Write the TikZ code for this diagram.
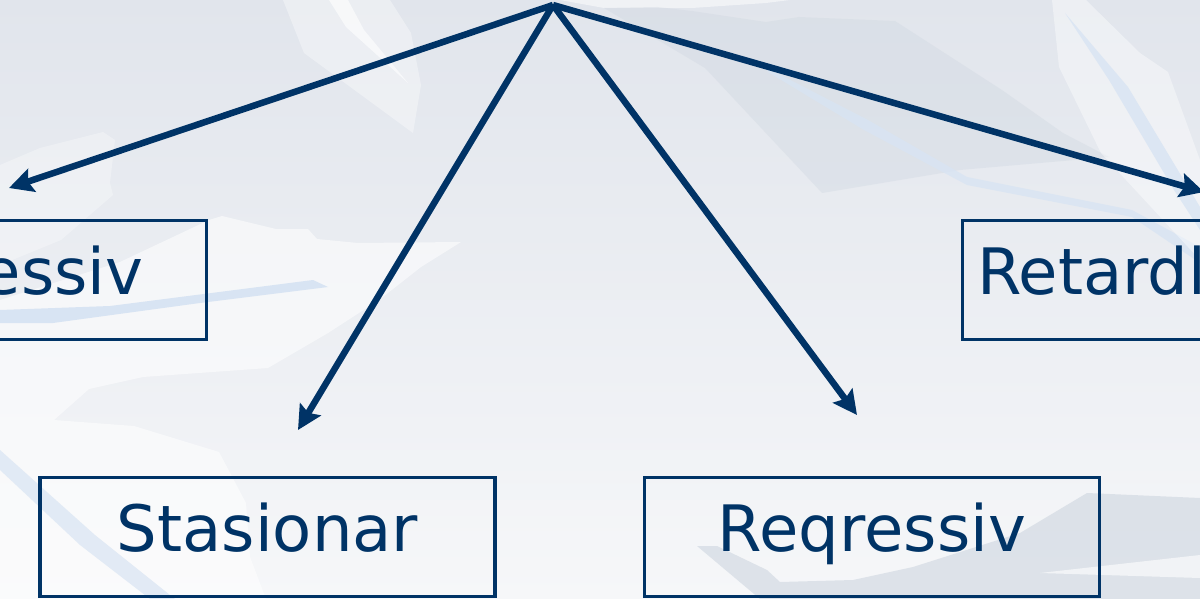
\documentclass[tikz,border=0pt]{standalone}
\usepackage{fontspec}
\setmainfont{DejaVu Sans}
\usetikzlibrary{arrows.meta}

\definecolor{navy}{RGB}{0,51,102}
\definecolor{bgtop}{RGB}{225,229,236}
\definecolor{bgmid}{RGB}{233,236,240}
\definecolor{bgbot}{RGB}{246,247,249}
\definecolor{bgdark}{RGB}{205,213,223}
\definecolor{bgblue}{RGB}{216,228,243}

\begin{document}
\begin{tikzpicture}
	[x=1pt,y=-1pt,
	kind/.style={draw=navy, line width=3.5pt, text=navy, font=\fontsize{64pt}{70pt}\selectfont, minimum width=455pt, minimum height=119pt, text height=48pt, text depth=20pt, inner sep=0pt},
	link/.style={-{Stealth[length=24pt,width=24pt,inset=4pt]}, line width=6.5pt, draw=navy}]
	%frame
	\useasboundingbox (0,0) rectangle (1200,599);
	\clip (0,0) rectangle (1200,599);

	%background
	\shade[top color=bgtop, middle color=bgmid, bottom color=bgbot] (0,0) rectangle (1200,599);
	\fill[white, opacity=.35] (283,0) -- (304,53) -- (413,133) -- (421,85) -- (411,33) -- (390,0) -- cycle;
	\fill[white, opacity=.6] (329,0) -- (346,27) -- (408,83) -- (364,30) -- (348,0) -- cycle;
	\fill[white, opacity=.3] (0,165) -- (40,148) -- (103,132) -- (115,140) -- (110,183) -- (113,195) -- (61,240) -- (0,265) -- cycle;
	\fill[white, opacity=.55] (209,220) -- (222,216) -- (276,229) -- (308,229) -- (317,239) -- (358,243) -- (461,242) -- (421,267) -- (379,300) -- (328,333) -- (268,368) -- (143,377) -- (89,389) -- (54,420) -- (134,426) -- (219,452) -- (246,503) -- (250,557) -- (266,599) -- (0,599) -- (0,300) -- (120,262) -- cycle;
	\fill[bgblue] (0,310) -- (110,306) -- (313,280) -- (328,287) -- (200,303) -- (53,323) -- (0,323) -- cycle;
	\fill[bgblue, opacity=.7] (0,450) -- (95,535) -- (175,599) -- (150,599) -- (80,545) -- (0,470) -- cycle;
	\fill[white, opacity=.5] (560,0) -- (790,0) -- (766,3) -- (692,8) -- (604,8) -- cycle;
	\fill[bgdark, opacity=.35] (604,8) -- (657,7) -- (692,11) -- (766,22) -- (799,17) -- (895,21) -- (1002,90) -- (1063,133) -- (1109,157) -- (960,170) -- (822,193) -- (705,68) -- cycle;
	\fill[bgblue, opacity=.8] (765,67) -- (868,120) -- (967,177) -- (1132,210) -- (1200,247) -- (1200,263) -- (1132,217) -- (967,185) -- (864,130) -- (768,72) -- cycle;
	\fill[white, opacity=.4] (1052,0) -- (1086,0) -- (1140,53) -- (1168,72) -- (1200,160) -- (1200,260) -- (1101,153) -- (1059,67) -- cycle;
	\fill[bgblue, opacity=.8] (1065,13) -- (1128,87) -- (1200,207) -- (1200,230) -- (1174,190) -- (1109,80) -- cycle;
	\fill[bgdark, opacity=.6] (697,546) -- (717,546) -- (767,570) -- (780,582) -- (853,580) -- (913,567) -- (1020,533) -- (1087,493) -- (1200,498) -- (1200,599) -- (760,599) -- cycle;
	\fill[white, opacity=.6] (1040,573) -- (1200,555) -- (1200,578) -- cycle;

	%boxes
	\node (proq) [kind] at (-21,280) {Proqressiv};
	\node (stas) [kind] at (267.5,537) {Stasionar};
	\node (reqr) [kind] at (872,537) {Reqressiv};
	\node (ret) [kind, text width=426pt, align=left] at (1190,280) {Retardl};

	%coordinate
	\coordinate (root) at (553,5);
	\coordinate (tipProq) at (9,188);
	\coordinate (tipStas) at (298,430);
	\coordinate (tipReq) at (857,415);
	\coordinate (tipRet) at (1204,192);

	%arrows
	\draw[link] (root) -- (tipProq);
	\draw[link] (root) -- (tipStas);
	\draw[link] (root) -- (tipReq);
	\draw[link] (root) -- (tipRet);
\end{tikzpicture}
\end{document}
